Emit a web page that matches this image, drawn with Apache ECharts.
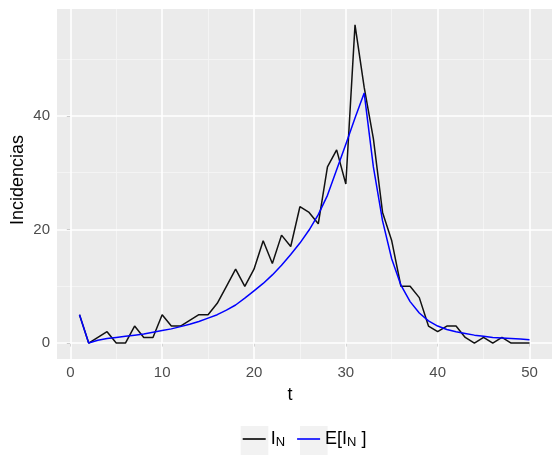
<!DOCTYPE html>
<html>
<head>
<meta charset="utf-8">
<script src="https://cdn.jsdelivr.net/npm/echarts@6.0.0/dist/echarts.min.js"></script>
<style>
  html, body { margin: 0; padding: 0; background: #ffffff; }
  #chart { width: 552px; height: 456px; }
</style>
</head>
<body>
<div id="chart"></div>
<script>
// Time steps
const t = [1, 2, 3, 4, 5, 6, 7, 8, 9, 10,
           11, 12, 13, 14, 15, 16, 17, 18, 19, 20,
           21, 22, 23, 24, 25, 26, 27, 28, 29, 30,
           31, 32, 33, 34, 35, 36, 37, 38, 39, 40,
           41, 42, 43, 44, 45, 46, 47, 48, 49, 50];

// Observed incidences I_N
const incidencias = [5, 0, 1, 2, 0, 0, 3, 1, 1, 5,
                     3, 3, 4, 5, 5, 7, 10, 13, 10, 13,
                     18, 14, 19, 17, 24, 23, 21, 31, 34, 28,
                     56, 45, 36, 23, 18, 10, 10, 8, 3, 2,
                     3, 3, 1, 0, 1, 0, 1, 0, 0, 0];

// Expected incidences E[I_N]
const esperado = [5, 0, 0.5, 0.8, 1.0, 1.2, 1.4, 1.6, 1.9, 2.2,
                  2.5, 2.9, 3.3, 3.8, 4.4, 5.0, 5.8, 6.7, 7.9, 9.2,
                  10.5, 12.0, 13.7, 15.6, 17.6, 19.9, 22.6, 26.0, 30.5, 35.0,
                  39.6, 44.0, 31.0, 21.5, 14.8, 10.2, 7.3, 5.3, 3.9, 3.0,
                  2.4, 2.0, 1.7, 1.4, 1.2, 1.0, 0.9, 0.8, 0.7, 0.6];

// Axis breaks
const xTicks = [0, 10, 20, 30, 40, 50];
const xMinor = [5, 15, 25, 35, 45];
const yTicks = [0, 20, 40];
const yMinor = [10, 30, 50];

const FONT = "'Liberation Sans', Arial, Helvetica, sans-serif";

const gridLines = []
  .concat(yMinor.map(v => ({ yAxis: v, lineStyle: { color: '#f5f5f5', width: 0.9, type: 'solid' } })))
  .concat(xMinor.map(v => ({ xAxis: v, lineStyle: { color: '#f5f5f5', width: 0.9, type: 'solid' } })))
  .concat(yTicks.map(v => ({ yAxis: v, lineStyle: { color: '#ffffff', width: 1.6, type: 'solid' } })))
  .concat(xTicks.map(v => ({ xAxis: v, lineStyle: { color: '#ffffff', width: 1.6, type: 'solid' } })));

const chart = echarts.init(document.getElementById('chart'), null, { renderer: 'canvas' });

chart.setOption({
  animation: false,
  backgroundColor: '#ffffff',
  grid: {
    left: 57, top: 9, width: 499, height: 350,
    show: true, backgroundColor: '#ebebeb', borderWidth: 0
  },
  xAxis: {
    type: 'value', min: -1.45, max: 52.45,
    axisLine: { show: false },
    splitLine: { show: false },
    axisTick: { show: true, customValues: xTicks, length: 3.5, lineStyle: { color: '#333333', width: 1 } },
    axisLabel: { customValues: xTicks, color: '#4d4d4d', fontSize: 15, fontFamily: FONT, margin: 6 }
  },
  yAxis: {
    type: 'value', min: -2.8, max: 58.8,
    axisLine: { show: false },
    splitLine: { show: false },
    axisTick: { show: true, customValues: yTicks, length: 3.5, lineStyle: { color: '#333333', width: 1 } },
    axisLabel: { customValues: yTicks, color: '#4d4d4d', fontSize: 15, fontFamily: FONT, margin: 7 }
  },
  legend: {
    data: ['IN', 'EIN'],
    left: 242.7, top: 430, padding: 0,
    icon: 'rect', itemWidth: 23, itemHeight: 1.6, itemGap: 12,
    formatter: function (name) {
      return name === 'IN' ? '{m|I}{s|N}' : '{m|E[I}{s|N}{m| ]}';
    },
    textStyle: {
      color: '#000000', fontFamily: FONT,
      rich: {
        m: { fontSize: 18, fontFamily: FONT, color: '#000000', lineHeight: 20 },
        s: { fontSize: 13, fontFamily: FONT, color: '#000000', lineHeight: 12, verticalAlign: 'bottom' }
      }
    }
  },
  graphic: [
    { type: 'rect', z: 0, shape: { x: 240.7, y: 426, width: 27.6, height: 29 }, style: { fill: '#f2f2f2' } },
    { type: 'rect', z: 0, shape: { x: 300, y: 426, width: 27.6, height: 29 }, style: { fill: '#f2f2f2' } },
    { type: 'text', x: 290, y: 395, style: { text: 't', fontSize: 18, fontFamily: FONT, fill: '#000000', align: 'center', verticalAlign: 'middle' } },
    { type: 'text', x: 18, y: 180, rotation: Math.PI / 2, style: { text: 'Incidencias', fontSize: 18, fontFamily: FONT, fill: '#000000', align: 'center', verticalAlign: 'middle' } }
  ],
  series: [
    {
      name: 'panel-grid', type: 'line', data: [], z: 1, silent: true,
      markLine: { z: 1, silent: true, symbol: ['none', 'none'], label: { show: false }, animation: false, data: gridLines }
    },
    {
      name: 'IN', type: 'line', z: 3, showSymbol: false, symbol: 'none',
      color: '#000000',
      lineStyle: { color: '#111111', width: 1.5 },
      data: t.map((x, i) => [x, incidencias[i]])
    },
    {
      name: 'EIN', type: 'line', z: 4, showSymbol: false, symbol: 'none',
      color: '#0000ff',
      lineStyle: { color: '#0000ff', width: 1.5 },
      data: t.map((x, i) => [x, esperado[i]])
    }
  ]
});
</script>
</body>
</html>
